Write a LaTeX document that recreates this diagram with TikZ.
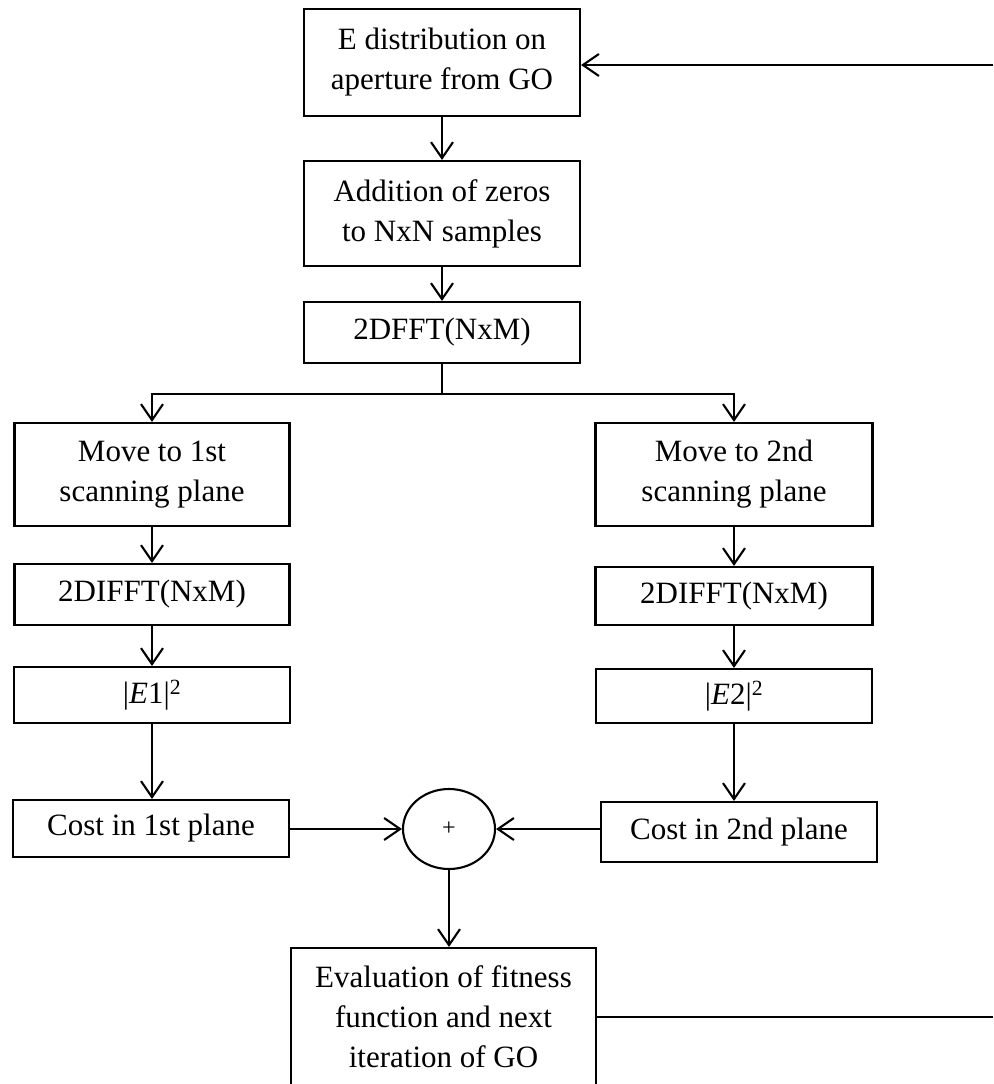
\documentclass[tikz,border=0pt]{standalone}
\usepackage{fontspec}
\setmainfont{Liberation Serif}
\usetikzlibrary{arrows.meta,shapes.geometric}
\begin{document}
\begin{tikzpicture}[x=1pt,y=-1pt,
  box/.style={draw,line width=2.1pt,align=center,inner sep=0pt,
    font=\fontsize{31}{40}\selectfont},
  sumnode/.style={draw,ellipse,line width=2.1pt,inner sep=0pt,
    minimum width=92pt,minimum height=80pt,font=\fontsize{24}{26}\selectfont},
  flow/.style={line width=2.1pt,-{Straight Barb[length=16pt,width=22pt,line width=2.1pt]}},
  link/.style={line width=2.1pt}]
\useasboundingbox (0,0) rectangle (993,1084);

% main trunk
\node[box,minimum width=276pt,minimum height=107pt] (src) at (442,62.5) {E distribution on\\aperture from GO};
\node[box,minimum width=276pt,minimum height=105pt] (pad) at (442,213.5) {Addition of zeros\\to NxN samples};
\node[box,minimum width=276pt,minimum height=61pt] (fft) at (442,332.5) {2DFFT(NxM)};

% first scanning plane
\node[box,minimum width=275pt,minimum height=103pt] (mvA) at (152,474.5) {Move to 1st\\scanning plane};
\node[box,minimum width=275pt,minimum height=61pt] (ifftA) at (152,594.5) {2DIFFT(NxM)};
\node[box,minimum width=276pt,minimum height=56pt] (absA) at (152,695) {|\textit{E}1|\textsuperscript{2}};
\node[box,minimum width=276pt,minimum height=57pt] (costA) at (151,828.5) {Cost in 1st plane};

% second scanning plane
\node[box,minimum width=277pt,minimum height=103pt] (mvB) at (734,474.5) {Move to 2nd\\scanning plane};
\node[box,minimum width=277pt,minimum height=58pt] (ifftB) at (734,596) {2DIFFT(NxM)};
\node[box,minimum width=276pt,minimum height=54pt] (absB) at (734,696) {|\textit{E}2|\textsuperscript{2}};
\node[box,minimum width=276pt,minimum height=60pt] (costB) at (739,832) {Cost in 2nd plane};

% summation and evaluation
\node[sumnode] (sum) at (449,829) {+};
\node[box,minimum width=305pt,minimum height=138pt] (eval) at (443.5,1017) {Evaluation of fitness\\function and next\\iteration of GO};

\coordinate (split) at (442,394);
\coordinate (loopin) at (993,65);
\coordinate (loopout) at (993,1017);

% connectors
\draw[flow] (src) -- (pad);
\draw[flow] (pad) -- (fft);
\draw[link] (fft.south) -- (split);
\draw[flow] (split) -| (mvA.north);
\draw[flow] (split) -| (mvB.north);
\draw[flow] (mvA) -- (ifftA);
\draw[flow] (ifftA) -- (absA);
\draw[flow] (absA.south) -- (absA.south |- costA.north);
\draw[flow] (mvB) -- (ifftB);
\draw[flow] (ifftB) -- (absB);
\draw[flow] (absB.south) -- (absB.south |- costB.north);
\draw[flow] (costA.east |- sum.west) -- (sum.west);
\draw[flow] (costB.west |- sum.east) -- (sum.east);
\draw[flow] (sum.south) -- (sum.south |- eval.north);
\draw[link] (eval.east |- loopout) -- (loopout);
\draw[flow] (loopin) -- (loopin -| src.east);
\end{tikzpicture}
\end{document}
